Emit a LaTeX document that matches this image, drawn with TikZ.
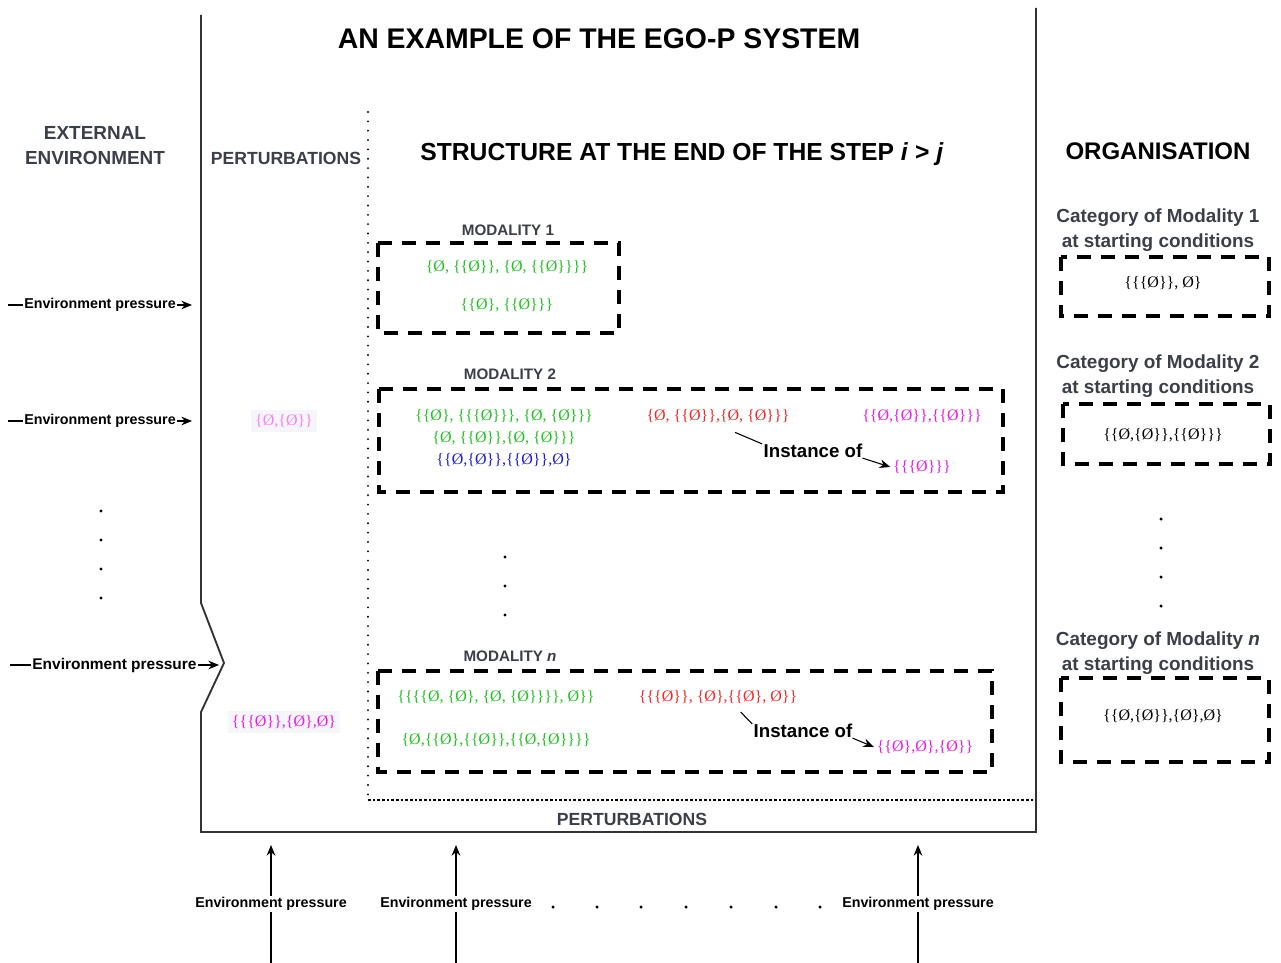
\documentclass[tikz,border=0pt]{standalone}
\usepackage{fontspec}
\setmainfont{Liberation Serif}
\setsansfont{Liberation Sans}
\usetikzlibrary{arrows.meta}
\definecolor{headgray}{RGB}{58,63,72}
\definecolor{setgreen}{RGB}{36,192,36}
\definecolor{setred}{RGB}{236,44,44}
\definecolor{setmag}{RGB}{230,30,230}
\definecolor{setblue}{RGB}{30,30,210}
\definecolor{palemag}{RGB}{245,130,245}
\definecolor{palebg}{RGB}{246,246,250}

\begin{document}
\begin{tikzpicture}[x=0.75pt, y=-0.75pt,
    bighead/.style={font=\sffamily\bfseries\fontsize{18.5}{21}\selectfont},
    grayhead/.style={font=\sffamily\bfseries\fontsize{14.2}{18.75}\selectfont, text=headgray, align=center},
    modlabel/.style={font=\sffamily\bfseries\fontsize{11.4}{13}\selectfont, text=headgray},
    setfont/.style={font=\fontsize{12}{14}\selectfont, inner sep=1pt},
    instlabel/.style={font=\sffamily\bfseries\fontsize{14}{16}\selectfont, inner sep=1pt},
    presslabel/.style={font=\sffamily\bfseries\fontsize{10.7}{12}\selectfont, fill=white, inner sep=1pt},
    pressarrow/.style={-{Stealth[length=8pt, width=6.5pt]}, line width=0.8pt},
    modbox/.style={line width=2.6pt, dash pattern=on 10.5pt off 7.5pt},
    frame/.style={line width=1.4pt, draw=black!80},
    dotline/.style={line width=1.6pt, line cap=round, dash pattern=on 0.01pt off 7pt}]

    \useasboundingbox (0,0) rectangle (1281,963);

    % frame of the system
    \draw[frame] (201,15) -- (201,603) -- (224,663) -- (201,712) -- (201,832) -- (1036,832) -- (1036,8);
    \draw[dotline] (368,112) -- (368,800);
    \draw[line width=0.8pt, dash pattern=on 2pt off 1.5pt] (368,800) -- (1034,800);

    % headings
    \node[font=\sffamily\bfseries\fontsize{21.3}{24}\selectfont] (title) at (599,39) {AN EXAMPLE OF THE EGO-P SYSTEM};
    \node[grayhead] (extenv) at (95,146) {EXTERNAL\\ENVIRONMENT};
    \node[grayhead, font=\sffamily\bfseries\fontsize{13.2}{16}\selectfont] (pertop) at (286,158) {PERTURBATIONS};
    \node[bighead] (struct) at (682,154) {STRUCTURE AT THE END OF THE STEP \textit{i} > \textit{j}};
    \node[bighead, font=\sffamily\bfseries\fontsize{18}{21}\selectfont] (organ) at (1158,151) {ORGANISATION};
    \node[grayhead, font=\sffamily\bfseries\fontsize{13.2}{16}\selectfont] (perbot) at (632,819) {PERTURBATIONS};

    % modality 1
    \node[modlabel] (mod1) at (508,230) {MODALITY 1};
    \draw[modbox] (378,243) rectangle (619,333);
    \node[setfont, text=setgreen] (m1a) at (507,267) {\{Ø, \{\{Ø\}\}, \{Ø, \{\{Ø\}\}\}\}};
    \node[setfont, text=setgreen] (m1b) at (507,305) {\{\{Ø\}, \{\{Ø\}\}\}};

    % modality 2
    \node[modlabel] (mod2) at (510,374) {MODALITY 2};
    \draw[modbox] (379,389) rectangle (1003,492);
    \node[setfont, text=setgreen] (m2a) at (504,416) {\{\{Ø\}, \{\{\{Ø\}\}\}, \{Ø, \{Ø\}\}\}};
    \node[setfont, text=setgreen] (m2b) at (504,438) {\{Ø, \{\{Ø\}\},\{Ø, \{Ø\}\}\}};
    \node[setfont, text=setblue] (m2c) at (504,460) {\{\{Ø,\{Ø\}\},\{\{Ø\}\},Ø\}};
    \node[setfont, text=setred] (m2r) at (718,416) {\{Ø, \{\{Ø\}\},\{Ø, \{Ø\}\}\}};
    \node[setfont, text=setmag] (m2m) at (922,416) {\{\{Ø,\{Ø\}\},\{\{Ø\}\}\}};
    \node[instlabel] (inst2) at (813,451) {Instance of};
    \node[setfont, text=setmag] (m2i) at (922,467) {\{\{\{Ø\}\}\}};
    \draw[line width=0.8pt] ([xshift=12.75pt, yshift=-6pt]m2r.south) -- ([yshift=-1pt]inst2.north west);
    \draw[pressarrow] ([xshift=-1pt, yshift=1pt]inst2.south east) -- ([xshift=-1pt]m2i.west);

    \foreach \y in {557,586,615} \fill (505,\y) circle (1.3pt);

    % modality n
    \node[modlabel] (modn) at (510,656) {MODALITY \textit{n}};
    \draw[modbox] (378,671) rectangle (992,772);
    \node[setfont, text=setgreen] (mna) at (496,697) {\{\{\{\{Ø, \{Ø\}, \{Ø, \{Ø\}\}\}\}, Ø\}\}};
    \node[setfont, text=setgreen] (mnb) at (496,740) {\{Ø,\{\{Ø\},\{\{Ø\}\},\{\{Ø,\{Ø\}\}\}\}};
    \node[setfont, text=setred] (mnr) at (718,697) {\{\{\{Ø\}\}, \{Ø\},\{\{Ø\}, Ø\}\}};
    \node[instlabel] (instn) at (803,731) {Instance of};
    \node[setfont, text=setmag] (mni) at (925,747) {\{\{Ø\},Ø\},\{Ø\}\}};
    \draw[line width=0.8pt] ([xshift=17pt, yshift=-5pt]mnr.south) -- ([yshift=-1pt]instn.north west);
    \draw[pressarrow] ([xshift=-1pt, yshift=1pt]instn.south east) -- ([xshift=-1pt]mni.west);

    % perturbations
    \node[setfont, text=palemag, fill=palebg, inner sep=3pt] (pert1) at (284,421) {\{Ø,\{Ø\}\}};
    \node[setfont, text=setmag, fill=palebg, inner sep=3pt] (pert2) at (284,722) {\{\{\{Ø\}\},\{Ø\},Ø\}};

    % external environment
    \coordinate (ea1) at (8,305);   \coordinate (eb1) at (192,305);
    \coordinate (ea2) at (8,421);   \coordinate (eb2) at (192,421);
    \coordinate (ea3) at (10,665);  \coordinate (eb3) at (219,665);
    \draw[pressarrow] (ea1) -- node[presslabel] (ep1) {Environment pressure} (eb1);
    \draw[pressarrow] (ea2) -- node[presslabel] (ep2) {Environment pressure} (eb2);
    \draw[pressarrow] (ea3) -- node[presslabel, font=\sffamily\bfseries\fontsize{11.6}{13}\selectfont] (ep3) {Environment pressure} (eb3);
    \foreach \y in {511,540,569,598} \fill (101,\y) circle (1.3pt);

    % organisation
    \node[grayhead] (cat1) at (1158,230) {Category of Modality 1\\at starting conditions};
    \draw[modbox] (1061,257) rectangle (1269,316);
    \node[setfont] (o1) at (1163,283) {\{\{\{Ø\}\}, Ø\}};
    \node[grayhead] (cat2) at (1158,376) {Category of Modality 2\\at starting conditions};
    \draw[modbox] (1063,404) rectangle (1270,464);
    \node[setfont] (o2) at (1163,435) {\{\{Ø,\{Ø\}\},\{\{Ø\}\}\}};
    \foreach \y in {519,548,577,606} \fill (1161,\y) circle (1.3pt);
    \node[grayhead] (catn) at (1158,653) {Category of Modality \textit{n}\\at starting conditions};
    \draw[modbox] (1061,678) rectangle (1269,762);
    \node[setfont] (on) at (1163,716) {\{\{Ø,\{Ø\}\},\{Ø\},Ø\}};

    % pressure from below
    \foreach \x/\n in {271/1,456/2,918/3} {
        \coordinate (ba\n) at (\x,963);
        \coordinate (bb\n) at (\x,845);
        \draw[pressarrow] (ba\n) -- node[presslabel, pos=0.5] (bp\n) {Environment pressure} (bb\n);
    }
    \foreach \x in {553,597,641,686,731,776,820} \fill (\x,907) circle (1.3pt);

\end{tikzpicture}
\end{document}
